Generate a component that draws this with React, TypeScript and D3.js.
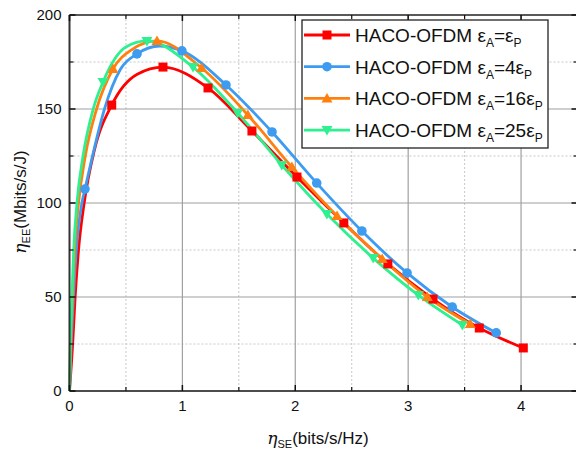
import React from "react";
import * as d3 from "d3";

// ---- data ----
const xTicks = [0, 1, 2, 3, 4];
const yTicks = [0, 50, 100, 150, 200];

// marker points
const redSE = [0.374, 0.828, 1.227, 1.616, 2.015, 2.43, 2.82, 3.22, 3.63, 4.02];
const redEE = [152.1, 172.3, 161.2, 138.3, 113.8, 89.4, 67.6, 48.9, 33.5, 22.9];
const blueSE = [0.137, 0.598, 0.996, 1.386, 1.794, 2.19, 2.59, 2.99, 3.39, 3.78];
const blueEE = [107.4, 179.3, 180.9, 162.8, 137.8, 110.6, 85.1, 62.8, 44.7, 30.9];
const orangeSE = [0.385, 0.775, 1.17, 1.58, 1.97, 2.37, 2.77, 3.17, 3.55];
const orangeEE = [171.3, 186.2, 171.8, 146.8, 119.1, 93.1, 70.2, 50.0, 35.6];
const greenSE = [0.297, 0.686, 1.094, 1.49, 1.88, 2.28, 2.69, 3.09, 3.48];
const greenEE = [164.4, 186.2, 172.3, 147.9, 120.2, 94.1, 70.7, 51.0, 35.1];

// extra curve points (no markers)
const redCurveSE = [0, 0.028, 0.05, 0.08, 0.13, 0.22, 0.6];
const redCurveEE = [0, 25, 50, 75, 100, 128, 168.5];
const blueCurveSE = [0, 0.015, 0.035, 0.06, 0.11, 0.2, 0.31, 0.45, 0.8];
const blueCurveEE = [0, 25, 50, 75, 100, 124, 150, 171, 183.5];
const orangeCurveSE = [0, 0.01, 0.027, 0.045, 0.08, 0.14, 0.24, 0.55];
const orangeCurveEE = [0, 25, 50, 75, 100, 125, 150, 181.5];
const greenCurveSE = [0, 0.007, 0.022, 0.037, 0.066, 0.12, 0.21, 0.5];
const greenCurveEE = [0, 25, 50, 75, 100, 125, 150, 183];

const seriesNames = ["", "4", "16", "25"];

type Pt = [number, number];
const zip = (a: number[], b: number[]): Pt[] => a.map((v, i) => [v, b[i]] as Pt);

const series = [
  { color: "#FF0000", marker: "square", mk: zip(redSE, redEE), curve: zip(redCurveSE, redCurveEE), k: seriesNames[0] },
  { color: "#3D9BF0", marker: "circle", mk: zip(blueSE, blueEE), curve: zip(blueCurveSE, blueCurveEE), k: seriesNames[1] },
  { color: "#FF8010", marker: "up", mk: zip(orangeSE, orangeEE), curve: zip(orangeCurveSE, orangeCurveEE), k: seriesNames[2] },
  { color: "#2EF08E", marker: "down", mk: zip(greenSE, greenEE), curve: zip(greenCurveSE, greenCurveEE), k: seriesNames[3] },
];

const W = 576, H = 453;
const L = 69.5, R = 577.5, T = 15, B = 391;

function Marker({ type, x, y, color }: { type: string; x: number; y: number; color: string }) {
  if (type === "square") return <rect x={x - 4.5} y={y - 4.5} width={9} height={9} fill={color} />;
  if (type === "circle") return <circle cx={x} cy={y} r={4.8} fill={color} />;
  if (type === "up") return <path d={`M${x},${y - 5.5}L${x + 5.5},${y + 4}L${x - 5.5},${y + 4}Z`} fill={color} />;
  return <path d={`M${x},${y + 5.5}L${x + 5.5},${y - 4}L${x - 5.5},${y - 4}Z`} fill={color} />;
}

export default function App() {
  const x = d3.scaleLinear().domain([0, 4.5]).range([L, R]);
  const y = d3.scaleLinear().domain([0, 200]).range([B, T]);
  const line = d3
    .line<Pt>()
    .x((d) => x(d[0]))
    .y((d) => y(d[1]))
    .curve(d3.curveMonotoneX);

  const xMinor = d3.range(0.5, 4.6, 1);
  const yMinor = d3.range(25, 200, 50);
  const font = "Liberation Sans, Arial, sans-serif";

  return (
    <svg width={W} height={H} style={{ position: "absolute", left: 0, top: 0 }} fontFamily={font}>
      <rect width={W} height={H} fill="#fff" />
      {/* minor grid */}
      {xMinor.map((v) => (
        <line key={"xm" + v} x1={x(v)} x2={x(v)} y1={T} y2={B} stroke="#c8c8c8" strokeDasharray="2,2" strokeWidth={1} />
      ))}
      {yMinor.map((v) => (
        <line key={"ym" + v} x1={L} x2={R} y1={y(v)} y2={y(v)} stroke="#c8c8c8" strokeDasharray="2,2" strokeWidth={1} />
      ))}
      {/* major grid */}
      {xTicks.slice(1).map((v) => (
        <line key={"xg" + v} x1={x(v)} x2={x(v)} y1={T} y2={B} stroke="#a0a0a0" strokeWidth={1.2} />
      ))}
      {yTicks.slice(1, -1).map((v) => (
        <line key={"yg" + v} x1={L} x2={R} y1={y(v)} y2={y(v)} stroke="#a0a0a0" strokeWidth={1.2} />
      ))}

      {/* curves */}
      {series.map((s, i) => {
        const pts = [...s.curve, ...s.mk].sort((a, b) => a[0] - b[0]);
        return <path key={"l" + i} d={line(pts) || ""} fill="none" stroke={s.color} strokeWidth={2.8} />;
      })}
      {series.map((s, i) => (
        <g key={"m" + i}>
          {s.mk.map((p, j) => (
            <Marker key={j} type={s.marker} x={x(p[0])} y={y(p[1])} color={s.color} />
          ))}
        </g>
      ))}

      {/* axes frame */}
      <line x1={L} x2={R} y1={B} y2={B} stroke="#111" strokeWidth={1.6} />
      <line x1={L} x2={R} y1={T} y2={T} stroke="#222" strokeWidth={1.6} />
      <line x1={L} x2={L} y1={T} y2={B} stroke="#333" strokeWidth={2} />
      <line x1={R} x2={R} y1={T} y2={B} stroke="#333" strokeWidth={2} />

      {/* ticks */}
      {xTicks.map((v) => (
        <g key={"xt" + v}>
          <line x1={x(v)} x2={x(v)} y1={B} y2={B - 6} stroke="#111" strokeWidth={1.5} />
          <line x1={x(v)} x2={x(v)} y1={T} y2={T + 6} stroke="#111" strokeWidth={1.5} />
          <text x={x(v)} y={B + 20} fontSize={15} textAnchor="middle" fill="#111">{v}</text>
        </g>
      ))}
      {xMinor.map((v) => (
        <g key={"xmt" + v}>
          <line x1={x(v)} x2={x(v)} y1={B} y2={B - 4} stroke="#111" strokeWidth={1.2} />
          <line x1={x(v)} x2={x(v)} y1={T} y2={T + 4} stroke="#111" strokeWidth={1.2} />
        </g>
      ))}
      {yTicks.map((v) => (
        <g key={"yt" + v}>
          <line x1={L} x2={L + 6} y1={y(v)} y2={y(v)} stroke="#111" strokeWidth={1.5} />
          <line x1={R} x2={R - 6} y1={y(v)} y2={y(v)} stroke="#111" strokeWidth={1.5} />
          <text x={L - 8} y={y(v) + 5} fontSize={15} textAnchor="end" fill="#111">{v}</text>
        </g>
      ))}
      {yMinor.map((v) => (
        <g key={"ymt" + v}>
          <line x1={L} x2={L + 4} y1={y(v)} y2={y(v)} stroke="#111" strokeWidth={1.2} />
          <line x1={R} x2={R - 4} y1={y(v)} y2={y(v)} stroke="#111" strokeWidth={1.2} />
        </g>
      ))}

      {/* axis titles */}
      <text x={318} y={444} fontSize={17} textAnchor="middle" fill="#111">
        <tspan fontStyle="italic" fontFamily="DejaVu Serif, serif">η</tspan>
        <tspan fontSize={11} dy={4}>SE</tspan>
        <tspan dy={-4}>(bits/s/Hz)</tspan>
      </text>
      <text transform="translate(26,202) rotate(-90)" fontSize={17} textAnchor="middle" fill="#111">
        <tspan fontStyle="italic" fontFamily="DejaVu Serif, serif">η</tspan>
        <tspan fontSize={11} dy={4}>EE</tspan>
        <tspan dy={-4}>(Mbits/s/J)</tspan>
      </text>

      {/* legend */}
      <rect x={302} y={20} width={246} height={128} fill="#fff" stroke="#222" strokeWidth={1.3} />
      {series.map((s, i) => {
        const ly = 35 + i * 31.7;
        return (
          <g key={"lg" + i}>
            <line x1={304} x2={350} y1={ly} y2={ly} stroke={s.color} strokeWidth={2.8} />
            <Marker type={s.marker} x={327} y={ly} color={s.color} />
            <text x={355} y={ly + 7} fontSize={19} fill="#111">
              HACO-OFDM ε
              <tspan fontSize={12} dy={5}>A</tspan>
              <tspan dy={-5}>={s.k}ε</tspan>
              <tspan fontSize={12} dy={5}>P</tspan>
            </text>
          </g>
        );
      })}
    </svg>
  );
}
